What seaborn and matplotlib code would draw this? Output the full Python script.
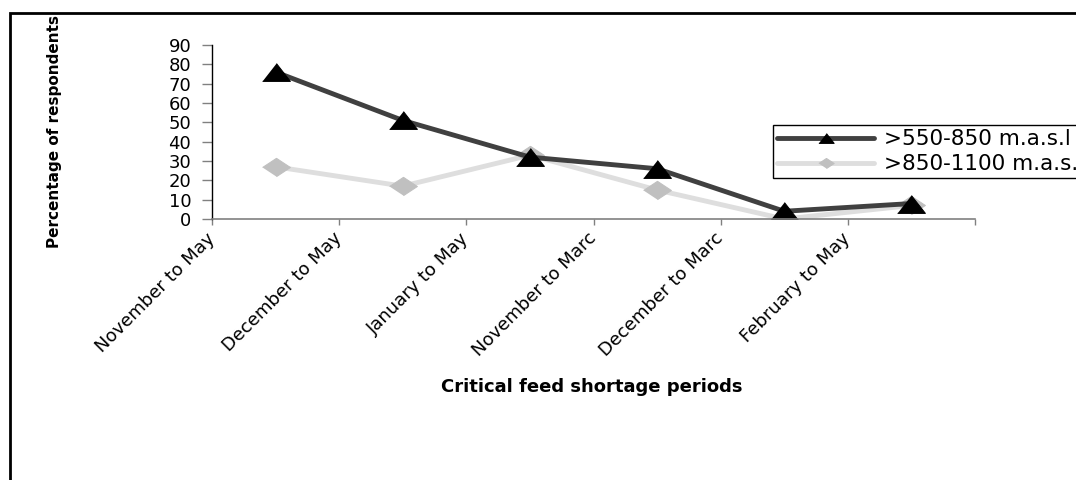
import numpy as np
import pandas as pd
import seaborn as sns
import matplotlib.pyplot as plt
from matplotlib.patches import Rectangle

# data
periods = ['November to May', 'December to May', 'January to May',
           'November to Marc', 'December to Marc', 'February to May']
low_alt_name = '>550-850 m.a.s.l'
high_alt_name = '>850-1100 m.a.s.l'
low_alt = [76, 51, 32, 26, 4, 8]
high_alt = [27, 17, 33, 15, 0, 7]
y_ticks = [0, 10, 20, 30, 40, 50, 60, 70, 80, 90]


def build_frame():
    pos = np.arange(len(periods)) + 0.5  # points sit between the category ticks
    df = pd.concat([
        pd.DataFrame({'pos': pos, 'pct': high_alt, 'series': high_alt_name}),
        pd.DataFrame({'pos': pos, 'pct': low_alt, 'series': low_alt_name}),
    ])
    return df


def draw(df):
    sns.set_style('white')
    plt.rcParams['font.family'] = ['DejaVu Sans']
    plt.rcParams['text.color'] = 'black'
    plt.rcParams['axes.labelcolor'] = 'black'

    fig = plt.figure(figsize=(10.76, 4.8), dpi=100)
    ax = fig.add_axes([212 / 1076, 1 - 219 / 480, 763 / 1076, 174 / 480])

    # flattened excel style markers
    tri = [(-1, -0.64), (1, -0.64), (0, 0.64)]
    dia = [(-1, 0), (0, 0.66), (1, 0), (0, -0.66)]

    sns.lineplot(data=df, x='pos', y='pct', hue='series', style='series',
                 hue_order=[high_alt_name, low_alt_name],
                 style_order=[high_alt_name, low_alt_name],
                 palette={high_alt_name: '#dedede', low_alt_name: '#404040'},
                 markers={high_alt_name: dia, low_alt_name: tri},
                 dashes=False, linewidth=3.5, markersize=20,
                 legend=False, ax=ax)

    light, dark = ax.lines[0], ax.lines[1]
    light.set_markerfacecolor('#c0c0c0')
    light.set_markeredgecolor('#c0c0c0')
    dark.set_markerfacecolor('black')
    dark.set_markeredgecolor('black')

    ax.set_xlim(0, len(periods))
    ax.set_ylim(0, 90)
    ax.set_yticks(y_ticks)
    ax.set_xticks(range(len(periods) + 1))
    ax.set_xticklabels(periods + [''], rotation=45, ha='right', va='center',
                       rotation_mode='anchor', fontsize=13)
    ax.tick_params(axis='y', labelsize=13, length=7, width=1, color='#808080',
                   labelcolor='black', direction='out', left=True, pad=8)
    ax.tick_params(axis='x', length=4, width=1, color='#808080',
                   labelcolor='black', direction='out', bottom=True, pad=8)

    sns.despine(ax=ax)
    ax.spines['left'].set_color('black')
    ax.spines['bottom'].set_color('#808080')
    ax.spines['left'].set_linewidth(1)
    ax.spines['bottom'].set_linewidth(1.2)

    ax.set_xlabel('Critical feed shortage periods', fontsize=13, fontweight='bold')
    ax.xaxis.set_label_coords(0.498, -0.966)
    ax.xaxis.label.set_va('center')
    ax.set_ylabel('Percentage of respondents', fontsize=11, fontweight='bold')
    ax.yaxis.set_label_coords(-0.207, 0.5)
    ax.yaxis.label.set_va('center')

    leg = ax.legend([dark, light], [low_alt_name, high_alt_name],
                    loc='upper left', bbox_to_anchor=(773 / 1076, 1 - 125 / 480),
                    bbox_transform=fig.transFigure, borderaxespad=0,
                    fontsize=15.5, handlelength=4.5, handletextpad=0.45,
                    borderpad=0.2, labelspacing=0.22, fancybox=False,
                    framealpha=1, edgecolor='black')
    leg.get_frame().set_linewidth(1)
    for h in leg.legend_handles:
        h.set_markersize(11)

    # outer chart frame, right and bottom sides fall outside the picture
    fig.patches.append(Rectangle((10 / 1076, -0.2), 1.2, 1.2 - 13 / 480,
                                 transform=fig.transFigure, fill=False,
                                 edgecolor='black', linewidth=2))

    fig.savefig('out.png', dpi=100)


def main():
    df = build_frame()
    draw(df)


main()
